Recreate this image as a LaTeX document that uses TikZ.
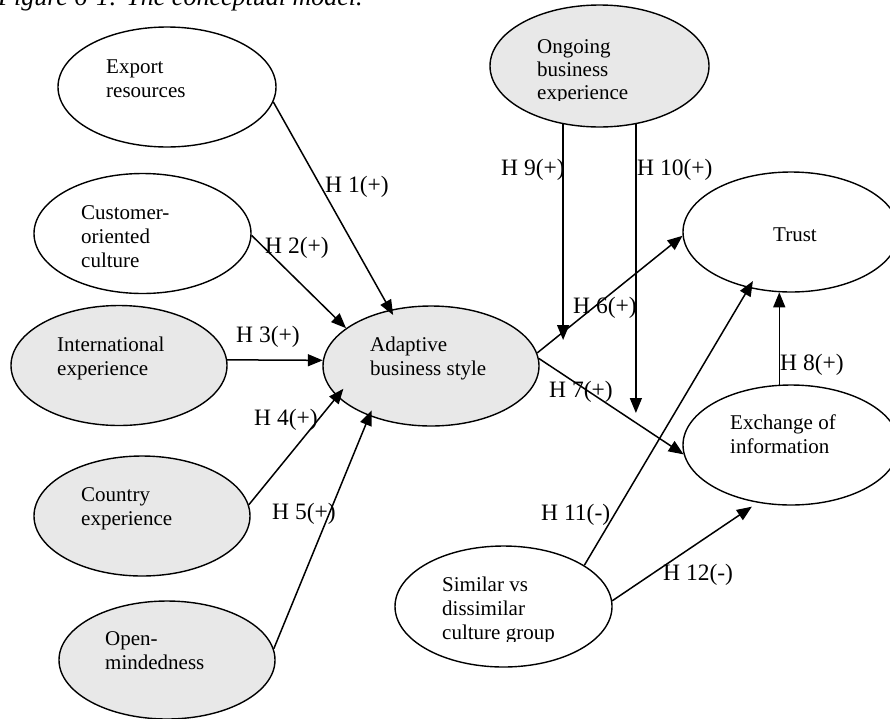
\documentclass[tikz,border=0pt]{standalone}
\usepackage{fontspec}
\setmainfont{Liberation Serif}
\usetikzlibrary{shapes.geometric,arrows.meta}
\definecolor{latentfill}{RGB}{232,232,232}
\begin{document}
\begin{tikzpicture}[x=1pt,y=-1pt,
  construct/.style={ellipse,draw,line width=1.4pt,minimum width=216pt,minimum height=120pt,inner sep=0pt},
  latent/.style={construct,fill=latentfill},
  txt/.style={anchor=base west,inner sep=0pt,font=\fontsize{21}{24}\selectfont},
  hyp/.style={anchor=base west,inner sep=0pt,font=\fontsize{23.5}{27}\selectfont},
  link/.style={line width=1.5pt,-{Triangle[length=15pt,width=12pt]}},
]
\useasboundingbox (0,0) rectangle (890,718);

% caption, partly above the page edge
\node[anchor=base west,inner sep=0pt,font=\fontsize{26}{30}\selectfont\itshape] (cap) at (-2,5) {Figure 6-1: The conceptual model.};

% constructs
\node[construct,minimum width=218pt] (exp) at (167,87) {};
\node[construct,minimum width=217pt] (cust) at (142.5,233.5) {};
\node[latent] (intl) at (119,365.5) {};
\node[latent] (ctry) at (142,516) {};
\node[latent,minimum height=118pt] (open) at (167,660) {};
\node[latent] (adapt) at (431,366) {};
\node[latent,minimum width=219pt,minimum height=122pt] (ong) at (599.5,66) {};
\node[construct] (trust) at (791,232) {};
\node[construct] (exch) at (791,445) {};
\node[construct,minimum width=217pt,minimum height=121pt] (sim) at (503.5,606.5) {};

% construct names
\node[txt] (expT) at (106,73) {\begin{tabular}[t]{@{}l@{}}Export\\resources\end{tabular}};
\node[txt] (custT) at (81,219) {\begin{tabular}[t]{@{}l@{}}Customer-\\oriented\\culture\end{tabular}};
\node[txt] (intlT) at (57,351) {\begin{tabular}[t]{@{}l@{}}International\\experience\end{tabular}};
\node[txt] (ctryT) at (81,501) {\begin{tabular}[t]{@{}l@{}}Country\\experience\end{tabular}};
\node[txt] (openT) at (105,645) {\begin{tabular}[t]{@{}l@{}}Open-\\mindedness\end{tabular}};
\node[txt] (adaptT) at (370,351) {\begin{tabular}[t]{@{}l@{}}Adaptive\\business style\end{tabular}};
\begin{scope}
  \clip (500,30) rectangle (700,100.5);
  \node[txt,font=\fontsize{21}{23}\selectfont] (ongT) at (537,53) {\begin{tabular}[t]{@{}l@{}}Ongoing\\business\\experience\end{tabular}};
\end{scope}
\node[txt] (trustT) at (773,241) {Trust};
\node[txt] (exchT) at (730,429) {\begin{tabular}[t]{@{}l@{}}Exchange of\\information\end{tabular}};
\begin{scope}
  \clip (420,560) rectangle (600,641);
  \node[txt] (simT) at (442,591) {\begin{tabular}[t]{@{}l@{}}Similar vs\\dissimilar\\culture group\end{tabular}};
\end{scope}

% hypothesised paths
\draw[link,shorten >=-6pt] (exp.-8) -- (adapt.126);
\draw[link] (cust.-1) -- (adapt.156);
\draw[link] (intl.3) -- (adapt.177);
\draw[link,shorten >=-10pt] (ctry.6) -- (adapt.198);
\draw[link,shorten >=-6pt] (open.6) -- (adapt.219);
\draw[link] (adapt.7) -- (trust.182);
\draw[link] (adapt.4) -- (exch.185);
\draw[link] (exch.101) -- (trust.259);
\draw[link,shorten >=-8pt] (sim.27) -- (trust.233);
\draw[link,shorten >=7pt] (sim.3) -- (exch.240);

% moderating paths
\coordinate (h9end) at (563,340);
\coordinate (h10end) at (636,413);
\draw[link] (ong.238) -- (ong.238 |- h9end);
\draw[link] (ong.302) -- (ong.302 |- h10end);

% path labels
\node[hyp] (l1) at (325,192) {H 1(+)};
\node[hyp] (l2) at (265,253) {H 2(+)};
\node[hyp] (l3) at (236,342) {H 3(+)};
\node[hyp] (l4) at (254,425) {H 4(+)};
\node[hyp] (l5) at (272,519) {H 5(+)};
\node[hyp] (l6) at (573,313) {H 6(+)};
\node[hyp] (l7) at (549,397) {H 7(+)};
\node[hyp] (l8) at (780,370) {H 8(+)};
\node[hyp] (l9) at (501,175) {H 9(+)};
\node[hyp] (l10) at (637,175) {H 10(+)};
\node[hyp] (l11) at (541,520) {H 11(-)};
\node[hyp] (l12) at (663,580) {H 12(-)};
\end{tikzpicture}
\end{document}
